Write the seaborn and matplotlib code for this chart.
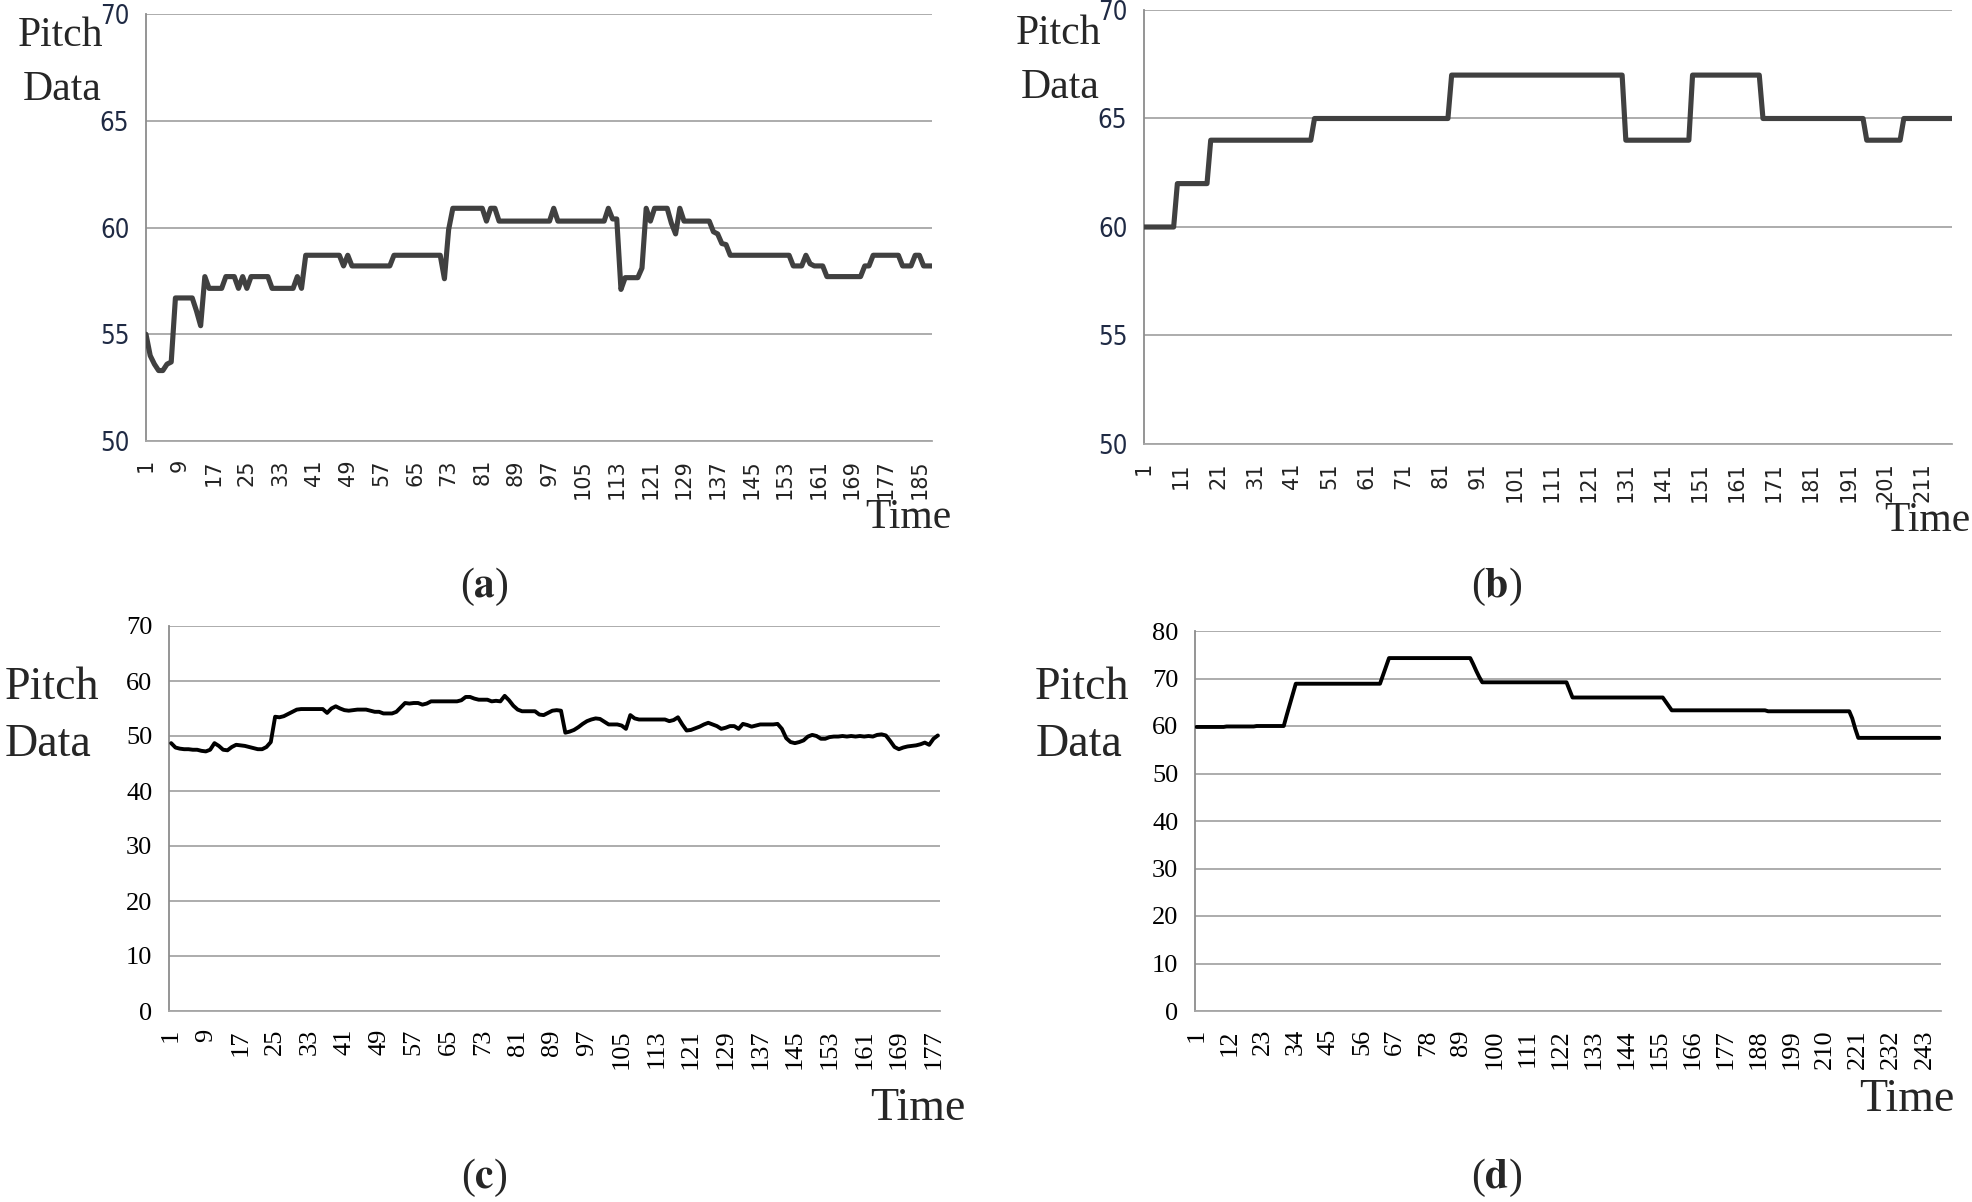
import numpy as np
import pandas as pd
import matplotlib
matplotlib.use("Agg")
import matplotlib.pyplot as plt
import seaborn as sns

sns.set_style("white")
plt.rcParams['font.family'] = ['DejaVu Sans']
plt.rcParams['mathtext.fontset'] = 'stix'

# ---- data (pitch value per time step) ----
pitch_a = ([55.0, 54.0, 53.6, 53.3, 53.3, 53.6, 53.7] + [56.7] * 5 + [56.1, 55.4, 57.7]
           + [57.15] * 4 + [57.7] * 3 + [57.15, 57.7, 57.15] + [57.7] * 5 + [57.15] * 6
           + [57.7, 57.15] + [58.7] * 9 + [58.2, 58.7] + [58.2] * 10 + [58.7] * 12
           + [57.6, 59.9] + [60.9] * 8 + [60.3] + [60.9] * 2 + [60.3] * 13 + [60.9]
           + [60.3] * 12 + [60.9] + [60.4] * 2 + [57.1] + [57.65] * 4 + [58.1, 60.9, 60.3]
           + [60.9] * 4 + [60.2, 59.7, 60.9] + [60.3] * 7 + [59.8, 59.7, 59.25, 59.2]
           + [58.7] * 15 + [58.2] * 3 + [58.7, 58.3] + [58.2] * 3 + [57.7] * 9 + [58.2] * 2
           + [58.7] * 7 + [58.2] * 3 + [58.7] * 2 + [58.2] * 3)

pitch_b = ([60] * 9 + [62] * 9 + [64] * 28 + [65] * 37 + [67] * 47 + [64] * 18
           + [67] * 19 + [65] * 28 + [64] * 10 + [65] * 14)

pitch_c = [48.7, 47.9, 47.7, 47.6, 47.6, 47.5, 47.5, 47.3, 47.2, 47.5,
           48.7, 48.2, 47.5, 47.4, 48.0, 48.4, 48.3, 48.2, 48.0, 47.8,
           47.6, 47.6, 48.0, 48.9, 53.5, 53.4, 53.6, 54.0, 54.4, 54.8,
           54.9, 54.9, 54.9, 54.9, 54.9, 54.9, 54.2, 55.0, 55.4, 55.0,
           54.7, 54.6, 54.7, 54.8, 54.8, 54.8, 54.6, 54.4, 54.4, 54.1,
           54.1, 54.1, 54.4, 55.2, 56.0, 55.9, 56.0, 56.0, 55.7, 55.9,
           56.3, 56.3, 56.3, 56.3, 56.3, 56.3, 56.3, 56.5, 57.1, 57.1,
           56.8, 56.6, 56.6, 56.6, 56.3, 56.4, 56.3, 57.3, 56.5, 55.5,
           54.8, 54.5, 54.5, 54.5, 54.5, 53.9, 53.8, 54.2, 54.6, 54.7,
           54.6, 50.6, 50.8, 51.1, 51.6, 52.2, 52.7, 53.0, 53.2, 53.1,
           52.6, 52.1, 52.1, 52.1, 51.9, 51.3, 53.8, 53.2, 53.0, 53.0,
           53.0, 53.0, 53.0, 53.0, 53.0, 52.7, 52.9, 53.4, 52.1, 51.0,
           51.1, 51.4, 51.7, 52.1, 52.4, 52.1, 51.8, 51.3, 51.5, 51.8,
           51.8, 51.3, 52.2, 52.0, 51.7, 51.9, 52.1, 52.1, 52.1, 52.1,
           52.2, 51.3, 49.6, 48.9, 48.7, 48.9, 49.2, 49.9, 50.2, 50.0,
           49.5, 49.5, 49.8, 49.9, 49.9, 50.0, 49.9, 50.0, 49.9, 50.0,
           49.9, 50.0, 49.9, 50.2, 50.3, 50.1, 49.1, 48.0, 47.6, 47.9,
           48.1, 48.2, 48.3, 48.5, 48.8, 48.4, 49.5, 50.1]

pitch_d = ([59.8] * 10 + [59.9] * 10 + [60.0] * 10 + [62.3, 64.5, 66.7] + [68.9] * 29
           + [70.7, 72.5] + [74.3] * 28 + [73.0, 71.6, 70.3] + [69.2] * 29 + [67.6]
           + [66.0] * 31 + [65.1, 64.2] + [63.3] * 32 + [63.1] * 28 + [61.6, 59.4]
           + [57.5] * 28)

panel_letters = ['a', 'b', 'c', 'd']
label_every = [8, 10, 8, 11]
y_ranges = [(50, 70, 5), (50, 70, 5), (0, 70, 10), (0, 80, 10)]

W, H = 1972, 1202
fig = plt.figure(figsize=(W / 100, H / 100), dpi=100)


def box(l, t, r, b):
    return [l / W, 1 - b / H, (r - l) / W, (b - t) / H]


def draw_panel(rect, values, yr, every, color, lw, x0, xtick_font, ytick_font):
    ax = fig.add_axes(rect)
    n = len(values)
    df = pd.DataFrame({'Time': np.arange(1, n + 1), 'Pitch': values})
    sns.lineplot(data=df, x='Time', y='Pitch', ax=ax, color=color, linewidth=lw,
                 solid_joinstyle='round', solid_capstyle='round', zorder=3)
    ax.set_xlabel('')
    ax.set_ylabel('')
    ax.set_xlim(x0, n + 1 - x0)
    ax.set_ylim(yr[0], yr[1])
    ax.set_yticks(np.arange(yr[0], yr[1] + 0.1, yr[2]))
    ax.yaxis.grid(True, color='#a6a6a6', linewidth=1.3)
    ax.set_axisbelow(True)
    for s in ['top', 'right']:
        ax.spines[s].set_visible(False)
    ax.spines['left'].set_color('#8c8c8c')
    ax.spines['left'].set_linewidth(1.3)
    ax.spines['bottom'].set_color('#a6a6a6')
    ax.spines['bottom'].set_linewidth(1.3)

    # one gray tick per time step, a number every few steps
    pos = np.arange(1, n + 1)
    ax.set_xticks(pos)
    ax.set_xticklabels([str(p) if (p - 1) % every == 0 else '' for p in pos],
                       rotation=90, **xtick_font)
    ax.tick_params(axis='x', length=10, width=1.1, color='#9a9a9a', pad=3)
    ax.tick_params(axis='y', length=8, width=1.3, color='#a6a6a6', pad=4)
    for t in ax.get_yticklabels():
        t.set(**ytick_font)
    return ax


sans_x = dict(family=['DejaVu Sans'], fontsize=15, color='#222222')
sans_y = dict(family=['DejaVu Sans'], fontstretch='condensed', fontsize=18.5, color='#1f2a44')
serif_x = dict(family=['Liberation Serif'], fontsize=19, color='black')
serif_y = dict(family=['Liberation Serif'], fontsize=19, color='black')

draw_panel(box(146, 14, 932, 441), pitch_a, y_ranges[0], label_every[0],
           '#404040', 3.7, 1, sans_x, sans_y)
draw_panel(box(1144, 10, 1952, 444), pitch_b, y_ranges[1], label_every[1],
           '#404040', 3.7, 1, sans_x, sans_y)
draw_panel(box(169, 626, 940, 1011), pitch_c, y_ranges[2], label_every[2],
           'black', 2.8, 0.5, serif_x, serif_y)
draw_panel(box(1195, 631, 1941, 1011), pitch_d, y_ranges[3], label_every[3],
           'black', 2.8, 0.5, serif_x, serif_y)


def ftext(x, y, s, size, **kw):
    fig.text(x / W, 1 - y / H, s, fontsize=size, family='Liberation Serif',
             ha='center', va='center', **kw)


# axis captions, placed as in the original figure
ftext(61, 36, 'Pitch', 30)
ftext(62, 90, 'Data', 30)
ftext(1059, 34, 'Pitch', 30)
ftext(1060, 88, 'Data', 30)
ftext(52, 688, 'Pitch', 33)
ftext(48, 745, 'Data', 33)
ftext(1082, 688, 'Pitch', 33)
ftext(1079, 745, 'Data', 33)
ftext(908, 518, 'Time', 30)
ftext(1927, 521, 'Time', 30)
ftext(918, 1109, 'Time', 33)
ftext(1907, 1100, 'Time', 33)

# panel letters
for (x, y), letter in zip([(484, 587), (1497, 587), (484, 1178), (1497, 1178)], panel_letters):
    ftext(x, y, r'($\mathbf{' + letter + '}$)', 30)

fig.savefig('out.png', dpi=100, facecolor='white')
